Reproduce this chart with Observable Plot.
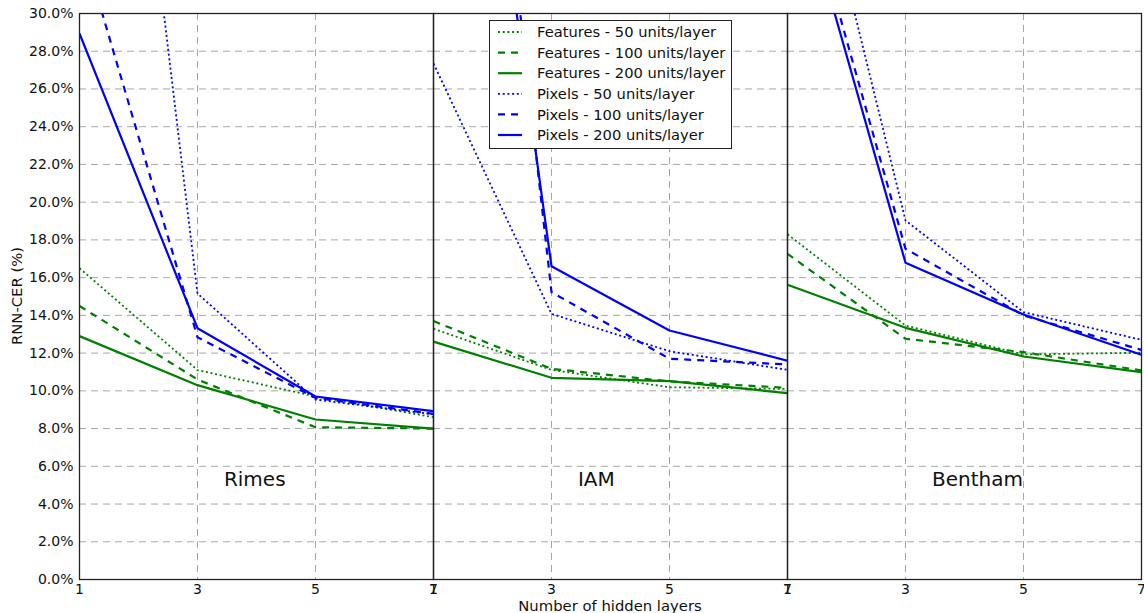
<!DOCTYPE html>
<html>
<head>
<meta charset="utf-8">
<script src="https://cdn.jsdelivr.net/npm/d3@7"></script>
<script src="https://cdn.jsdelivr.net/npm/@observablehq/plot@0.6"></script>
<style>
  body { margin: 0; background: #fff; font-family: "DejaVu Sans", sans-serif; }
  #wrap { position: relative; width: 1144px; height: 613px; overflow: hidden; }
  #xlabel { position: absolute; left: 0; width: 1220px; text-align: center; top: 597px; font-size: 14.8px; color: #111; white-space: nowrap; }
  #ylabel { position: absolute; left: 16px; top: 296px; transform: translate(-50%, -50%) rotate(-90deg); font-size: 14.8px; color: #111; white-space: nowrap; }
  #legend { position: absolute; left: 489px; top: 20px; }
</style>
</head>
<body>
<div id="wrap"></div>
<script>
// ---- Data (values in %) ----
const layers = [1, 3, 5, 7];
const datasets = ["Rimes", "IAM", "Bentham"];
const labelAt = [3.97, 3.76, 4.22];   // hidden-layer position of each panel's name
const seriesNames = [
  "Features - 50 units/layer",
  "Features - 100 units/layer",
  "Features - 200 units/layer",
  "Pixels - 50 units/layer",
  "Pixels - 100 units/layer",
  "Pixels - 200 units/layer"
];
const yTicks = [0, 2, 4, 6, 8, 10, 12, 14, 16, 18, 20, 22, 24, 26, 28, 30];

// Rimes
const rimesFeat50  = [16.5, 11.1, 9.7, 8.6];
const rimesFeat100 = [14.5, 10.6, 8.07, 8.0];
const rimesFeat200 = [12.9, 10.3, 8.48, 8.0];
const rimesPix50   = [67.2, 15.16, 9.54, 8.75];
const rimesPix100  = [34.1, 12.84, 9.63, 8.78];
const rimesPix200  = [28.94, 13.32, 9.7, 8.92];
// IAM
const iamFeat50  = [13.29, 11.11, 10.19, 10.1];
const iamFeat100 = [13.7, 11.17, 10.5, 10.16];
const iamFeat200 = [12.61, 10.69, 10.51, 9.88];
const iamPix50   = [27.35, 14.08, 12.1, 11.11];
const iamPix100  = [71.0, 15.23, 11.7, 11.4];
const iamPix200  = [62.0, 16.6, 13.2, 11.6];
// Bentham
const benFeat50  = [18.3, 13.46, 11.93, 12.02];
const benFeat100 = [17.26, 12.76, 12.05, 11.08];
const benFeat200 = [15.62, 13.34, 11.82, 10.99];
const benPix50   = [44.5, 19.03, 14.17, 12.7];
const benPix100  = [39.7, 17.53, 14.0, 12.17];
const benPix200  = [38.8, 16.79, 14.05, 11.91];

const seriesByDataset = [
  [rimesFeat50, rimesFeat100, rimesFeat200, rimesPix50, rimesPix100, rimesPix200],
  [iamFeat50, iamFeat100, iamFeat200, iamPix50, iamPix100, iamPix200],
  [benFeat50, benFeat100, benFeat200, benPix50, benPix100, benPix200]
];

const rows = [];
datasets.forEach((ds, di) => {
  seriesNames.forEach((s, si) => {
    seriesByDataset[di][si].forEach((v, i) => {
      rows.push({dataset: ds, series: s, layers: layers[i], cer: v});
    });
  });
});

// ---- Styles ----
const GREEN = "#008000", BLUE = "#0000ff";
const styles = [
  {color: GREEN, dash: "2,2.7", width: 1.8},
  {color: GREEN, dash: "7,6", width: 2.2},
  {color: GREEN, dash: null, width: 2.2},
  {color: BLUE, dash: "2,2.7", width: 1.8},
  {color: BLUE, dash: "7,6", width: 2.2},
  {color: BLUE, dash: null, width: 2.2}
];

const labels = datasets.map((d, i) => ({dataset: d, layers: labelAt[i], cer: 5.3}));

const lineMarks = seriesNames.map((s, si) => Plot.line(rows.filter(r => r.series === s), {
  x: "layers", y: "cer", fx: "dataset",
  stroke: styles[si].color,
  strokeWidth: styles[si].width,
  strokeDasharray: styles[si].dash,
  strokeLinecap: "butt",
  clip: true
}));

const chart = Plot.plot({
  width: 1144,
  height: 613,
  marginLeft: 79,
  marginRight: 3,
  marginTop: 13,
  marginBottom: 34,
  style: {fontFamily: "DejaVu Sans, sans-serif", fontSize: "14px", color: "#111", background: "#fff"},
  fx: {domain: datasets, padding: 0, axis: null, label: null},
  x: {domain: [1, 7], ticks: layers, tickSize: 0, tickPadding: 5, label: null, tickFormat: d => String(d)},
  y: {domain: [0, 30], ticks: yTicks, tickSize: 0, tickPadding: 6, label: null, tickFormat: d => d.toFixed(1) + "%"},
  marks: [
    Plot.gridY(yTicks, {stroke: "#a8a8a8", strokeOpacity: 1, strokeDasharray: "7,5", strokeWidth: 1}),
    Plot.gridX(layers, {stroke: "#a8a8a8", strokeOpacity: 1, strokeDasharray: "7,5", strokeWidth: 1}),
    ...lineMarks,
    Plot.text(labels, {x: "layers", y: "cer", fx: "dataset", text: "dataset", fontSize: 20, fill: "#111"}),
    Plot.frame({stroke: "#222", strokeWidth: 1.3})
  ]
});

const wrap = document.getElementById("wrap");
wrap.appendChild(chart);

// axis labels
const xl = document.createElement("div");
xl.id = "xlabel";
xl.textContent = "Number of hidden layers";
wrap.appendChild(xl);
const yl = document.createElement("div");
yl.id = "ylabel";
yl.textContent = "RNN-CER (%)";
wrap.appendChild(yl);

// legend overlay
const lw = 243, lh = 129, rowH = 20.6;
const leg = d3.create("svg").attr("id", "legend").attr("width", lw).attr("height", lh)
  .style("font-family", "DejaVu Sans, sans-serif");
leg.append("rect").attr("x", 0.5).attr("y", 0.5).attr("width", lw - 1).attr("height", lh - 1)
  .attr("fill", "#fff").attr("stroke", "#222").attr("stroke-width", 1);
seriesNames.forEach((s, i) => {
  const cy = 12 + i * rowH;
  leg.append("line").attr("x1", 9).attr("x2", 33).attr("y1", cy).attr("y2", cy)
    .attr("stroke", styles[i].color).attr("stroke-width", styles[i].width)
    .attr("stroke-dasharray", styles[i].dash);
  leg.append("text").attr("x", 48).attr("y", cy).attr("dy", "0.35em")
    .attr("font-size", 14.7).attr("fill", "#111").text(s);
});
wrap.appendChild(leg.node());
</script>
</body>
</html>
